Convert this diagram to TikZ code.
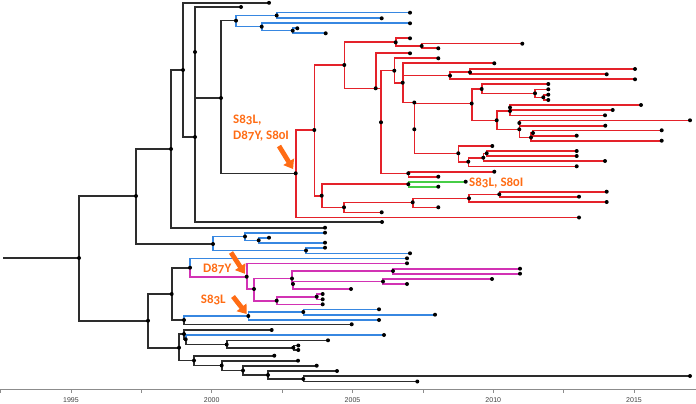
\documentclass[tikz,border=0pt]{standalone}
\usepackage{fontspec}
\usepackage{tikz}
\usetikzlibrary{arrows.meta}
\newfontfamily\mutfont[Numbers=OldStyle]{Carlito}
\newfontfamily\axisfont{Liberation Sans}
\definecolor{brblack}{RGB}{45,45,45}
\definecolor{brblue}{RGB}{55,135,225}
\definecolor{brred}{RGB}{228,34,42}
\definecolor{brpink}{RGB}{210,50,180}
\definecolor{brgreen}{RGB}{70,205,70}
\definecolor{mutorange}{RGB}{255,108,20}

\begin{document}
\begin{tikzpicture}[x=1pt,y=-1pt,
  br/.style={line width=1.6pt},
  blk/.style={br,draw=brblack},
  blu/.style={br,draw=brblue},
  rd/.style={br,draw=brred},
  pnk/.style={br,draw=brpink},
  grn/.style={br,draw=brgreen},
  mut/.style={text=mutorange,font=\mutfont\bfseries\fontsize{13}{16}\selectfont,inner sep=0pt,align=left},
  mutarr/.style={draw=mutorange,line width=4.8pt,-{Triangle[width=12pt,length=8.5pt]}},
  axline/.style={draw=black!45,line width=0.6pt},
  yr/.style={font=\axisfont\fontsize{7}{8}\selectfont,text=black!75,inner sep=0pt}
]
\path[use as bounding box] (0,0) rectangle (696,404);

% ---------------- backbone
\coordinate (root) at (3,258);
\coordinate (nR0) at (79,258);
\coordinate (nF) at (136,196);
\coordinate (nE) at (171,149);
\coordinate (nA) at (183,70);
\coordinate (nB) at (195,137);
\coordinate (nC) at (195,52);
\coordinate (nD) at (221,98);
\coordinate (t1) at (269,2.8); \coordinate (t2) at (241,7);
\coordinate (t3) at (382,222); \coordinate (t4) at (325,227.7);

% ---------------- top blue clade
\coordinate (nBB) at (236,20.7); \coordinate (nBC) at (276.7,15.5);
\coordinate (nBD) at (261.7,26.7); \coordinate (nBE) at (292.7,30.7);
\coordinate (b1) at (410,12.7); \coordinate (b2) at (381.7,18.3);
\coordinate (b3) at (410,23.3); \coordinate (b4) at (297.3,28.3);
\coordinate (b5) at (325.7,33.3);

% ---------------- red clade (S83L, D87Y, S80I)
\coordinate (nRR) at (295.7,173.3);
\coordinate (nS1) at (314.3,130); \coordinate (nS2) at (344.3,65);
\coordinate (nT1) at (395.7,42.3); \coordinate (nT2) at (421.7,46);
\coordinate (nS4) at (375.7,88.3); \coordinate (nZ1) at (381,122.3);
\coordinate (nS5) at (394.3,70.7); \coordinate (nQ1) at (402.7,82.7);
\coordinate (nQ6) at (450,75.7); \coordinate (nQ7) at (470,72.3);
\coordinate (nQ2) at (414.3,102.5); \coordinate (nQ3) at (471.7,103.5);
\coordinate (nQ4) at (414.3,129.3);
\coordinate (nH1) at (481.7,89); \coordinate (nH2) at (535,93.3); \coordinate (nH3) at (543.3,97.3);
\coordinate (nW0) at (496.7,120.3); \coordinate (nW1) at (510,111); \coordinate (nW2) at (510,107.5);
\coordinate (nW3) at (519.3,129.3); \coordinate (nW4) at (519.3,123);
\coordinate (nW5) at (531,137.5); \coordinate (nW6) at (533,133);
\coordinate (nQ8) at (458.3,153.3); \coordinate (nQ9) at (468.3,161.7);
\coordinate (nQ10) at (483.3,157.7); \coordinate (nQ11) at (486.7,153.3);
\coordinate (nQ5) at (408.3,173.3);
\coordinate (nS3) at (321.7,195.7); \coordinate (nG0) at (408.3,184.2);
\coordinate (nS6) at (344,207.3); \coordinate (nS7) at (412.7,202.3);
\coordinate (nS8) at (469,198.3); \coordinate (nS9) at (499.3,194.3);
\coordinate (r1) at (410,38.3); \coordinate (r2) at (522.3,43.7);
\coordinate (r3) at (438.3,48.3); \coordinate (r4) at (410,53.3);
\coordinate (r5) at (438.3,58.3); \coordinate (r6) at (494.3,63.3);
\coordinate (r7) at (635,69); \coordinate (r8) at (606.7,74.3);
\coordinate (r9) at (635,79.3); \coordinate (r10) at (548.3,84);
\coordinate (r11) at (548.3,89.3); \coordinate (r12) at (548.3,94.7);
\coordinate (r13) at (548.3,100); \coordinate (r14) at (641,105);
\coordinate (r15) at (612.7,110); \coordinate (r16) at (605,115.3);
\coordinate (r17) at (690,120.3); \coordinate (r18) at (605.3,125.7);
\coordinate (r19) at (661.7,130.3); \coordinate (r20) at (576.7,135.7);
\coordinate (r21) at (661.7,140.7); \coordinate (r22) at (492.3,146);
\coordinate (r23) at (576.7,151); \coordinate (r24) at (576.7,156);
\coordinate (r25) at (605,161); \coordinate (r26) at (576.7,166.3);
\coordinate (r27) at (494.3,171.7); \coordinate (r28) at (438.3,176.7);
\coordinate (r29) at (606.7,191.7); \coordinate (r30) at (579,196.7);
\coordinate (r31) at (606.7,202); \coordinate (r32) at (438.3,207.3);
\coordinate (r33) at (381.7,212.3); \coordinate (r34) at (579,217.5);
\coordinate (g1) at (465.7,181.7); \coordinate (g2) at (438.3,186.7);

% ---------------- middle blue clade
\coordinate (nG) at (213,244); \coordinate (nH) at (245,236.5);
\coordinate (nI) at (258.7,240.3); \coordinate (nJ) at (306,250.5);
\coordinate (c1) at (325,232.7); \coordinate (c2) at (269,237.7);
\coordinate (c3) at (325,242.7); \coordinate (c4) at (325,247.7);
\coordinate (c5) at (410,253.3);

% ---------------- D87Y clade
\coordinate (nT) at (148,320.7); \coordinate (nU) at (171.7,294);
\coordinate (nK) at (190,267.7); \coordinate (c6) at (407,258.3);
\coordinate (nL) at (246.7,276.7); \coordinate (nM) at (254,289);
\coordinate (nN) at (292,278.5); \coordinate (nO) at (393,271);
\coordinate (nN2) at (293,284); \coordinate (nP) at (383,281.5);
\coordinate (nQ) at (276.7,300.7); \coordinate (nR) at (316.7,296.7);
\coordinate (p1) at (407,263.3); \coordinate (p2) at (520,268.7);
\coordinate (p3) at (520,273.7); \coordinate (p4) at (492,279);
\coordinate (p5) at (407,284); \coordinate (p6) at (351,289);
\coordinate (p7) at (322.7,294); \coordinate (p8) at (322.7,299.3);
\coordinate (p9) at (322.7,304.3);

% ---------------- S83L clade and bottom
\coordinate (nW) at (184,320); \coordinate (nX) at (248.3,316);
\coordinate (nY) at (303.3,312);
\coordinate (d1) at (379,309.3); \coordinate (d2) at (435,314.7);
\coordinate (d3) at (379,320); \coordinate (t5) at (351.7,324.3);
\coordinate (nV) at (179,347.7); \coordinate (nZ) at (184,334);
\coordinate (nZ2) at (185.7,339.3); \coordinate (nAA) at (226.7,344.5);
\coordinate (nAB) at (293.3,347.7); \coordinate (nAC) at (194,360.5);
\coordinate (nAD) at (221.7,365.5); \coordinate (nAE) at (243,370.5);
\coordinate (nAF) at (268,375); \coordinate (nAG) at (303.3,379);
\coordinate (d4) at (384,335);
\coordinate (t6) at (271.7,330); \coordinate (t7) at (328,340.3);
\coordinate (t8) at (298.3,345.5); \coordinate (t9) at (298.3,350);
\coordinate (t10) at (274.3,355.7); \coordinate (t11) at (298,360.7);
\coordinate (t12) at (316.7,365.7); \coordinate (t13) at (337,371);
\coordinate (t14) at (690,376); \coordinate (t15) at (417.3,381.5);

% ---------------- branches
\draw[blk] (root) -- (nR0);
\foreach \a/\b in {nR0/nF,nR0/nT,nF/nE,nF/nG,nE/nA,nE/t4,nA/t1,nA/nB,nB/nC,nB/t3,nC/t2,nC/nD,
  nD/nBB,nD/nRR,nT/nU,nT/nV,nU/nK,nU/nW,nW/t5,nV/nZ,nV/nAC,nZ/t6,nZ/nZ2,nZ2/nAA,nAA/t7,nAA/nAB,
  nAB/t8,nAB/t9,nAC/t10,nAC/nAD,nAD/t11,nAD/nAE,nAE/t12,nAE/nAF,nAF/t13,nAF/nAG,nAG/t14,nAG/t15}
  \draw[blk] (\a) |- (\b);
\foreach \a/\b in {nBB/nBC,nBB/nBD,nBC/b1,nBC/b2,nBD/b3,nBD/nBE,nBE/b4,nBE/b5,
  nG/nH,nG/nJ,nH/c1,nH/nI,nI/c2,nI/c3,nJ/c4,nJ/c5,nK/c6,nW/nX,nX/nY,nX/d3,nY/d1,nY/d2,nZ2/d4}
  \draw[blu] (\a) |- (\b);
\foreach \a/\b in {nK/nL,nL/p1,nL/nM,nM/nN,nM/nQ,nN/nO,nN/nN2,nO/p2,nO/p3,nN2/nP,nN2/p6,
  nP/p4,nP/p5,nQ/nR,nQ/p9,nR/p7,nR/p8}
  \draw[pnk] (\a) |- (\b);
\foreach \a/\b in {nRR/nS1,nRR/r34,nS1/nS2,nS1/nS3,nS2/nT1,nS2/nS4,nT1/r1,nT1/nT2,nT2/r2,nT2/r3,
  nS4/r4,nZ1/nS5,nZ1/nQ5,nS5/r5,nS5/nQ1,nQ1/r6,nQ1/nQ6,nQ1/nQ2,nQ6/nQ7,nQ6/r9,nQ7/r7,nQ7/r8,
  nQ2/nQ3,nQ2/nQ8,nQ3/nH1,nQ3/nW0,nH1/r10,nH1/nH2,nH2/r11,nH2/nH3,nH3/r12,nH3/r13,
  nW0/nW1,nW0/nW3,nW1/nW2,nW1/r16,nW2/r14,nW2/r15,nW3/nW4,nW3/nW5,nW4/r17,nW4/r18,
  nW5/nW6,nW5/r21,nW6/r19,nW6/r20,nQ8/r22,nQ8/nQ9,nQ9/nQ10,nQ9/r26,nQ10/nQ11,nQ10/r25,
  nQ11/r23,nQ11/r24,nQ5/r27,nQ5/r28,nS3/nG0,nS3/nS6,nS6/nS7,nS6/r33,nS7/nS8,nS7/r32,
  nS8/nS9,nS8/r31,nS9/r29,nS9/r30}
  \draw[rd] (\a) |- (\b);
\draw[rd] (nS4) -| (nZ1);
\foreach \a/\b in {nG0/g1,nG0/g2} \draw[grn] (\a) |- (\b);

% ---------------- node dots
\foreach \n in {nR0,nF,nE,nA,nB,nC,nD,nBB,nBC,nBD,nBE,nRR,nS1,nS2,nT1,nT2,nS4,nZ1,nS5,nQ1,
  nQ2,nQ3,nQ4,nQ5,nQ6,nQ7,nQ8,nQ9,nQ10,nQ11,nH1,nH2,nH3,nW0,nW1,nW2,nW3,nW4,nW5,nW6,
  nS3,nS6,nS7,nS8,nS9,nG0,g1,g2,nG,nH,nI,nJ,nK,nL,nM,nN,nO,nN2,nP,nQ,nR,
  nT,nU,nW,nX,nY,nV,nZ,nZ2,nAA,nAB,nAC,nAD,nAE,nAF,nAG}
  \fill[black] (\n) circle (2pt);
\foreach \i in {1,...,15} \fill[black] (t\i) circle (2pt);
\foreach \i in {1,...,34} \fill[black] (r\i) circle (2pt);
\foreach \i in {1,...,5} \fill[black] (b\i) circle (2pt);
\foreach \i in {1,...,6} \fill[black] (c\i) circle (2pt);
\foreach \i in {1,...,9} \fill[black] (p\i) circle (2pt);
\foreach \i in {1,...,4} \fill[black] (d\i) circle (2pt);

% ---------------- time axis
\coordinate (ax0) at (0,389); \coordinate (ax1) at (696,389);
\draw[axline] (ax0) -- (ax1);
\foreach \k in {-1,0,...,8} \draw[axline] ({71+70.375*\k},389) -- ++(0,4);
\foreach \yy in {1995,2000,2005,2010,2015}
  \node[yr] (y\yy) at ({71+28.15*(\yy-1995)},400.5) {\yy};

% ---------------- mutation labels
\coordinate (a1) at (279,146);
\coordinate (a2) at (231,252.5);
\coordinate (a3) at (233,296.5);
\draw[mutarr,shorten >=5pt] (a1) -- (nRR);
\draw[mutarr,shorten >=3.5pt] (a2) -- (nL);
\draw[mutarr,shorten >=2.5pt] (a3) -- (nX);
\node[mut,anchor=north west] (m1) at (233,115) {S83L,\\D87Y, S80I};
\node[mut,anchor=base west] (m2) at (469,186) {S83L, S80I};
\node[mut,anchor=base west] (m3) at (203,272.3) {D87Y};
\node[mut,anchor=base west] (m4) at (200.7,303.3) {S83L};
\end{tikzpicture}
\end{document}
